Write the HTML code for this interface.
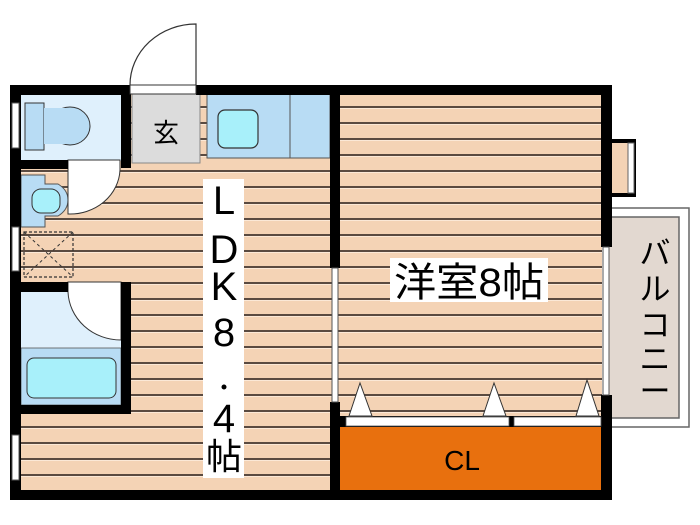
<!DOCTYPE html>
<html><head><meta charset="utf-8"><style>
html,body{margin:0;padding:0;background:#fff;width:700px;height:525px;overflow:hidden}
svg{display:block}
text{font-family:"Liberation Sans","Noto Sans CJK JP",sans-serif;fill:#000}
</style></head><body>
<svg width="700" height="525" viewBox="0 0 700 525" xmlns="http://www.w3.org/2000/svg">
<defs>
<pattern id="fl" x="0" y="106" width="10" height="16" patternUnits="userSpaceOnUse">
<rect width="10" height="16" fill="#f4d3b5"/>
<rect y="0" width="10" height="2" fill="#5a4a40"/>
<rect y="2" width="10" height="1" fill="#fbe8d6"/>
</pattern>
</defs>
<!-- balcony -->
<rect x="605" y="208" width="84" height="219" fill="#fff" stroke="#666" stroke-width="1.5"/>
<rect x="605" y="217" width="74" height="201" fill="#e2d8d0" stroke="#666" stroke-width="1.5"/>
<text font-size="31" transform="translate(655,250)" text-anchor="middle"><tspan x="0" y="14">バ</tspan><tspan x="0" y="50">ル</tspan><tspan x="0" y="86">コ</tspan><tspan x="0" y="120">ニ</tspan><tspan x="0" y="152">ー</tspan></text>
<!-- bay -->
<rect x="600" y="139" width="36" height="58" fill="#000"/>
<rect x="603" y="143" width="30" height="50" fill="#f4d3b5"/>
<rect x="628" y="143" width="6" height="50" fill="#fff" stroke="#666" stroke-width="1"/>
<!-- floors -->
<rect x="20" y="94" width="582" height="397" fill="url(#fl)"/>
<!-- toilet -->
<rect x="21" y="94" width="100" height="67" fill="#dff0fc"/>
<rect x="25" y="103" width="19" height="47" fill="#b8dcf4" stroke="#333" stroke-width="1"/>
<ellipse cx="70" cy="126" rx="20" ry="19" fill="#b8dcf4" stroke="#333" stroke-width="1"/>
<rect x="44" y="108" width="22" height="36" fill="#b8dcf4"/>
<!-- genkan -->
<rect x="132" y="94" width="68" height="69" fill="#dcdcdc" stroke="#888" stroke-width="1"/>
<text x="166" y="142" font-size="26" text-anchor="middle">玄</text>
<!-- kitchen -->
<rect x="207" y="94" width="123" height="64" fill="#b8dcf4" stroke="#555" stroke-width="1"/>
<line x1="290" y1="94" x2="290" y2="158" stroke="#555" stroke-width="1"/>
<rect x="218" y="110" width="40" height="38" rx="7" fill="#a8f0fa" stroke="#333" stroke-width="1.2"/>
<!-- washbasin -->
<path d="M21 175 H45 V184 H58 Q68 190 68 200 Q68 210 58 216 H45 V227 H21 Z" fill="#b8dcf4" stroke="#555" stroke-width="1"/>
<rect x="32" y="189" width="28" height="24" rx="9" fill="#a8f0fa" stroke="#333" stroke-width="1"/>
<!-- toilet door -->
<path d="M68 160 H120 V170 A50 46 0 0 1 68 214 Z" fill="#fff" stroke="#333" stroke-width="1"/>
<!-- washing machine -->
<rect x="24" y="232" width="49" height="45" fill="none" stroke="#333" stroke-width="1.2" stroke-dasharray="3,2"/>
<line x1="24" y1="232" x2="73" y2="277" stroke="#333" stroke-width="1" stroke-dasharray="3,3"/>
<line x1="73" y1="232" x2="24" y2="277" stroke="#333" stroke-width="1" stroke-dasharray="3,3"/>
<!-- bath -->
<rect x="21" y="292" width="100" height="56" fill="#dff0fc"/>
<rect x="21" y="348" width="100" height="57" fill="#b8dcf4" stroke="#555" stroke-width="0.8"/>
<rect x="27" y="358" width="89" height="40" rx="7" fill="#a8f0fa" stroke="#333" stroke-width="1"/>
<path d="M68 282 H121 V340 A53 50 0 0 1 68 292 Z" fill="#fff" stroke="#333" stroke-width="1"/>
<!-- walls -->
<g fill="#000">
<rect x="10" y="85" width="120" height="10"/>
<rect x="196" y="85" width="416" height="10"/>
<rect x="10" y="85" width="11" height="415"/>
<rect x="10" y="490" width="602" height="10"/>
<rect x="601" y="85" width="11" height="162"/>
<rect x="601" y="395" width="11" height="105"/>
<rect x="121" y="94" width="10" height="74"/>
<rect x="21" y="160" width="47" height="9"/>
<rect x="21" y="282" width="47" height="10"/>
<rect x="121" y="282" width="10" height="132"/>
<rect x="21" y="405" width="110" height="9"/>
<rect x="330" y="85" width="10" height="183"/>
<rect x="330" y="402" width="10" height="98"/>
</g>
<!-- entrance door -->
<rect x="130" y="85" width="66" height="9" fill="#fff" stroke="#333" stroke-width="1"/>
<path d="M196 85 V24 A66 61 0 0 0 130 85" fill="none" stroke="#333" stroke-width="1.2"/>
<!-- windows -->
<g fill="#fff" stroke="#555" stroke-width="1">
<rect x="12" y="103" width="7" height="45"/>
<rect x="12" y="227" width="7" height="44"/>
<rect x="12" y="435" width="7" height="45"/>
<rect x="332" y="268" width="6" height="134"/>
<rect x="603" y="247" width="6" height="148"/>
</g>
<!-- LDK label -->
<rect x="203" y="179" width="41" height="299" fill="#fff"/>
<text font-size="40" text-anchor="middle"><tspan x="224" y="214">L</tspan><tspan x="224" y="263">D</tspan><tspan x="224" y="300">K</tspan><tspan x="224" y="346">8</tspan><tspan x="224" y="432">4</tspan><tspan x="224" y="469" font-size="36">帖</tspan></text>
<circle cx="224" cy="387" r="2.5" fill="#000"/>
<!-- yoshitsu label -->
<rect x="390" y="258" width="158" height="44" fill="#fff"/>
<text x="394" y="296" font-size="40" textLength="150" lengthAdjust="spacingAndGlyphs">洋室8帖</text>
<!-- closet -->
<rect x="340" y="416" width="261" height="11" fill="#000"/>
<rect x="346" y="417" width="163" height="9" fill="#fff" stroke="#555" stroke-width="0.8"/>
<rect x="514" y="417" width="87" height="9" fill="#fff" stroke="#555" stroke-width="0.8"/>
<rect x="340" y="427" width="261" height="63" fill="#e8700e"/>
<g fill="#fff" stroke="#333" stroke-width="1">
<path d="M349 416 L360 383 L372 416 Z"/>
<path d="M483 416 L494 383 L506 416 Z"/>
<path d="M576 416 L587 380 L599 416 Z"/>
</g>
<text x="462" y="470" font-size="28" text-anchor="middle">CL</text>
</svg>
</body></html>
